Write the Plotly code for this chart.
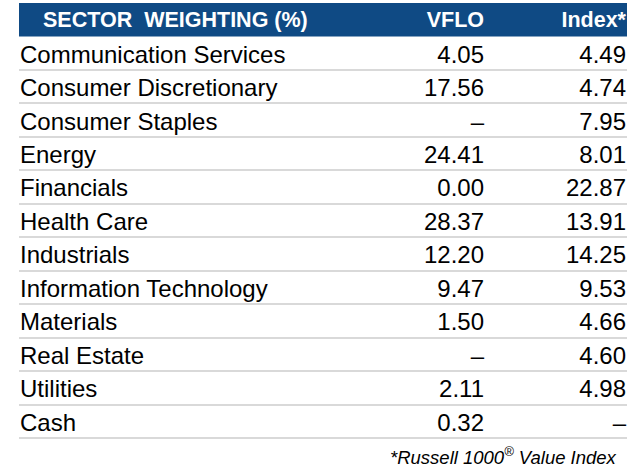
import plotly.graph_objects as go

sectors = ["Communication Services", "Consumer Discretionary", "Consumer Staples",
           "Energy", "Financials", "Health Care", "Industrials",
           "Information Technology", "Materials", "Real Estate", "Utilities", "Cash"]
vflo = [4.05, 17.56, None, 24.41, 0.00, 28.37, 12.20, 9.47, 1.50, None, 2.11, 0.32]
index_vals = [4.49, 4.74, 7.95, 8.01, 22.87, 13.91, 14.25, 9.53, 4.66, 4.60, 4.98, None]
header_labels = ["SECTOR\u00a0\u00a0WEIGHTING (%)", "VFLO", "Index*"]
footnote = "<i>*Russell 1000<sup>®</sup> Value Index</i>"


def fmt(v):
    return "–" if v is None else f"{v:.2f}"


rows = list(range(len(sectors)))
FONT = "Liberation Sans, Arial, sans-serif"
X_NAME, X_VFLO, X_INDEX, X_HEAD = 20, 484, 626, 43
ROW_SIZE = 24
HEAD_SIZE = 21.5
TEXT_DY = 0.1  # small downward nudge of text within each row
text_y = [r + TEXT_DY for r in rows]

fig = go.Figure()
fig.add_trace(go.Scatter(x=[X_NAME] * len(rows), y=text_y, mode="text", text=sectors,
                         textposition="middle right",
                         textfont=dict(family=FONT, size=ROW_SIZE, color="#000000"),
                         hoverinfo="skip", showlegend=False))
fig.add_trace(go.Scatter(x=[X_VFLO] * len(rows), y=text_y, mode="text",
                         text=[fmt(v) for v in vflo], textposition="middle left",
                         textfont=dict(family=FONT, size=ROW_SIZE, color="#000000"),
                         hoverinfo="skip", showlegend=False))
fig.add_trace(go.Scatter(x=[X_INDEX] * len(rows), y=text_y, mode="text",
                         text=[fmt(v) for v in index_vals], textposition="middle left",
                         textfont=dict(family=FONT, size=ROW_SIZE, color="#000000"),
                         hoverinfo="skip", showlegend=False))
# header row (row -1)
fig.add_trace(go.Scatter(x=[X_HEAD, X_VFLO, X_INDEX], y=[-1 + 0.06] * 3, mode="text",
                         text=[f"<b>{h}</b>" for h in header_labels],
                         textposition=["middle right", "middle left", "middle left"],
                         textfont=dict(family=FONT, size=HEAD_SIZE, color="#ffffff"),
                         hoverinfo="skip", showlegend=False))

ROW_PX = 33.45
CENTER0 = 53.3
H = 471
fig.update_layout(
    width=640, height=H,
    margin=dict(l=19, r=13, t=0, b=0),
    paper_bgcolor="white", plot_bgcolor="white",
    xaxis=dict(range=[19, 627], visible=False, fixedrange=True),
    yaxis=dict(range=[(H - CENTER0) / ROW_PX, -CENTER0 / ROW_PX],
               tickvals=[r + 0.5 for r in rows], showticklabels=False,
               showgrid=True, gridcolor="#d9d9d9", gridwidth=1.5,
               zeroline=False, showline=False, ticks="", fixedrange=True),
    shapes=[dict(type="rect", xref="paper", yref="y", x0=0, x1=1,
                 y0=-1.5, y1=-0.5, fillcolor="#0f4a84", line=dict(width=0),
                 layer="below")],
    annotations=[dict(text=footnote, xref="x", yref="y", x=619, y=12.05,
                      xanchor="right", yanchor="middle", showarrow=False,
                      font=dict(family=FONT, size=18.5, color="#000000"))],
)

fig.write_html("out.html", config={"displayModeBar": False},
               post_script="document.body.style.margin='0';document.body.style.overflow='hidden';")
